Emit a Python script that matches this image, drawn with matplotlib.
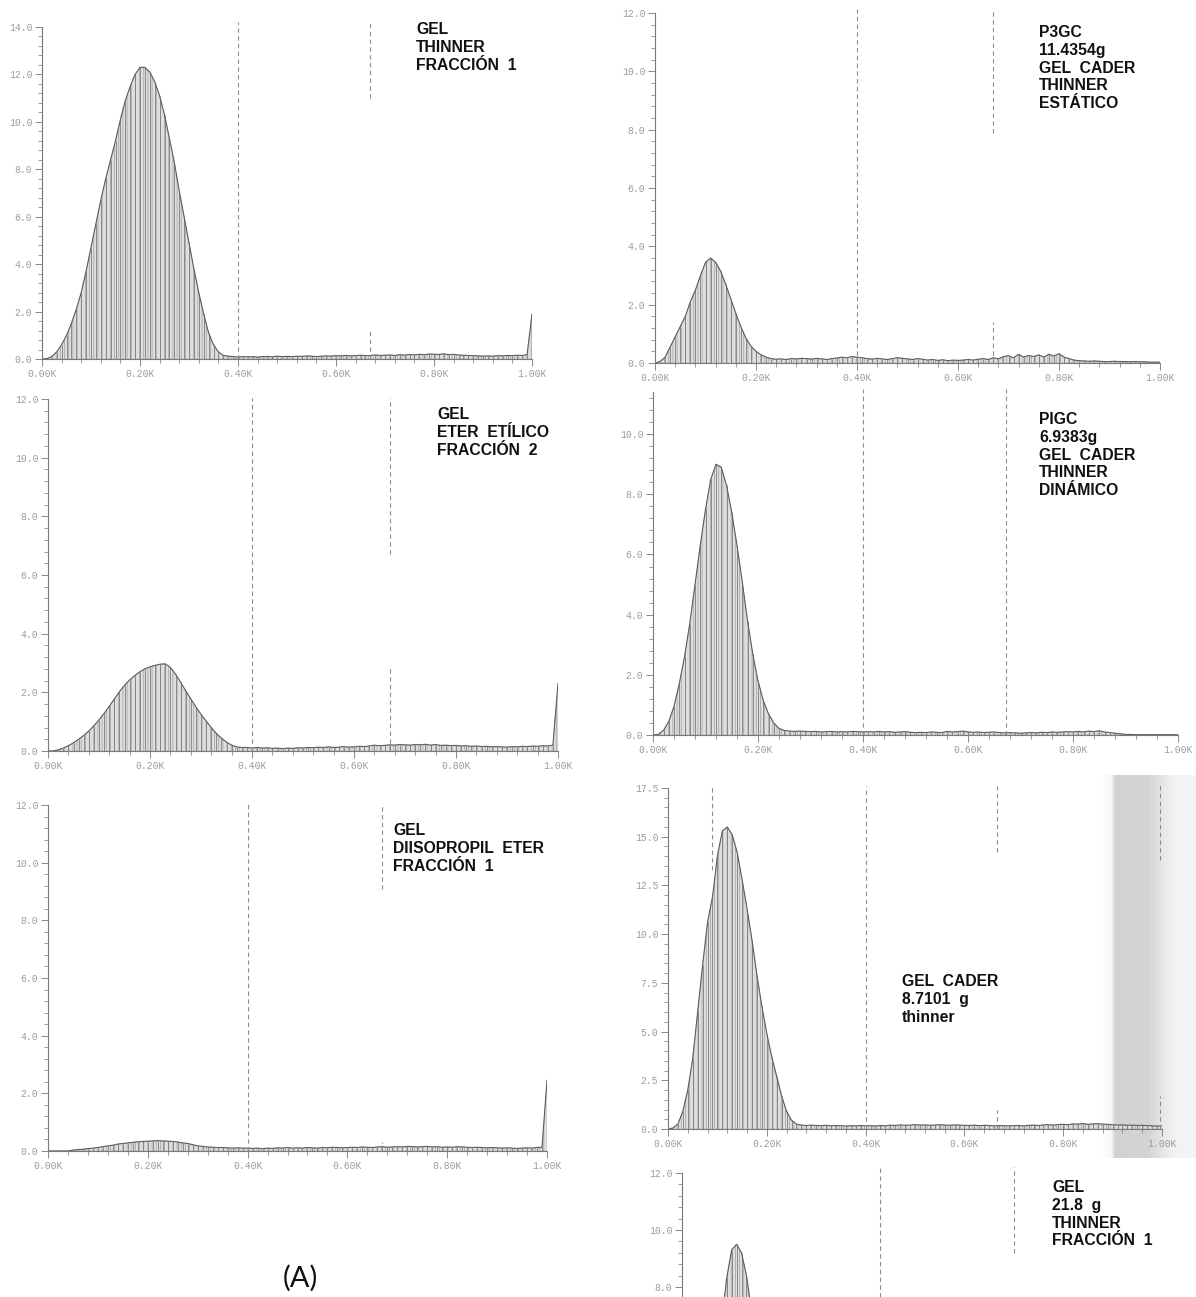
import numpy as np
import matplotlib
matplotlib.use("Agg")
import matplotlib.pyplot as plt
from matplotlib.ticker import MultipleLocator, FuncFormatter

plt.rcParams['font.family'] = ['Liberation Mono', 'DejaVu Sans Mono']
plt.rcParams['hatch.linewidth'] = 0.5
plt.rcParams['hatch.color'] = '#a0a0a0'

W, H = 1196, 1297

# posiciones de los canales (K), cada 0.01K
bins_k = np.round(np.arange(0, 101) * 0.01, 2)

p1_vals = [0.0, 0.02, 0.1, 0.3, 0.6, 1.0, 1.5, 2.1, 2.8, 3.7,
           4.7, 5.7, 6.7, 7.6, 8.4, 9.2, 10.1, 10.9, 11.5, 12.0,
           12.3, 12.3, 12.1, 11.7, 11.1, 10.3, 9.3, 8.3, 7.1, 6.0,
           4.9, 3.8, 2.8, 1.9, 1.1, 0.6, 0.3, 0.15, 0.12, 0.1,
           0.08, 0.1, 0.09, 0.1, 0.08, 0.1, 0.11, 0.09, 0.12, 0.1,
           0.11, 0.1, 0.12, 0.11, 0.13, 0.12, 0.1, 0.12, 0.13, 0.12,
           0.14, 0.13, 0.15, 0.13, 0.14, 0.16, 0.14, 0.15, 0.17, 0.15,
           0.16, 0.17, 0.15, 0.18, 0.16, 0.19, 0.17, 0.2, 0.18, 0.21,
           0.2, 0.19, 0.22, 0.18, 0.2, 0.17, 0.16, 0.15, 0.14, 0.13,
           0.12, 0.13, 0.12, 0.14, 0.13, 0.15, 0.14, 0.16, 0.15, 0.18,
           1.9]

p2_vals = [0.0, 0.05, 0.2, 0.55, 0.9, 1.25, 1.6, 2.1, 2.5, 3.0,
           3.45, 3.6, 3.45, 3.15, 2.7, 2.2, 1.7, 1.25, 0.85, 0.58,
           0.4, 0.28, 0.2, 0.15, 0.13, 0.14, 0.12, 0.15, 0.14, 0.16,
           0.15, 0.13, 0.16, 0.14, 0.12, 0.15, 0.17, 0.2, 0.18, 0.22,
           0.2, 0.18, 0.15, 0.13, 0.16, 0.14, 0.12, 0.15, 0.18, 0.16,
           0.14, 0.12, 0.15, 0.13, 0.1, 0.12, 0.09, 0.11, 0.08, 0.1,
           0.09, 0.1, 0.12, 0.1, 0.13, 0.15, 0.12, 0.18, 0.14, 0.22,
           0.25, 0.18, 0.3, 0.2, 0.26, 0.22, 0.28, 0.2, 0.3, 0.24,
           0.32, 0.2, 0.15, 0.1, 0.08, 0.07, 0.06, 0.07, 0.06, 0.05,
           0.05, 0.06, 0.05, 0.05, 0.04, 0.05, 0.04, 0.04, 0.03, 0.03,
           0.03]

p3_vals = [0.0, 0.0, 0.04, 0.1, 0.18, 0.28, 0.4, 0.53, 0.68, 0.86,
           1.06, 1.28, 1.52, 1.77, 2.02, 2.24, 2.42, 2.57, 2.7, 2.8,
           2.87, 2.92, 2.96, 2.97, 2.85, 2.62, 2.35, 2.05, 1.78, 1.5,
           1.25, 1.02, 0.8, 0.6, 0.44, 0.3, 0.2, 0.14, 0.12, 0.12,
           0.1, 0.12, 0.1, 0.11, 0.09, 0.1, 0.08, 0.1, 0.09, 0.11,
           0.1, 0.12, 0.11, 0.13, 0.12, 0.14, 0.12, 0.13, 0.15, 0.13,
           0.14, 0.16, 0.15, 0.17, 0.2, 0.18, 0.19, 0.21, 0.2, 0.22,
           0.21, 0.2, 0.22, 0.21, 0.23, 0.2, 0.22, 0.19, 0.2, 0.18,
           0.19, 0.17, 0.18, 0.16, 0.17, 0.15, 0.16, 0.14, 0.15, 0.14,
           0.13, 0.15, 0.14, 0.16, 0.15, 0.17, 0.16, 0.18, 0.17, 0.2,
           2.3]

p4_vals = [0.0, 0.02, 0.15, 0.45, 0.95, 1.7, 2.6, 3.7, 5.0, 6.3,
           7.5, 8.5, 9.0, 8.9, 8.3, 7.4, 6.3, 5.1, 3.8, 2.7,
           1.8, 1.15, 0.7, 0.4, 0.22, 0.15, 0.13, 0.12, 0.13, 0.12,
           0.11, 0.12, 0.1, 0.11, 0.12, 0.1, 0.11, 0.1, 0.12, 0.11,
           0.1, 0.11, 0.1, 0.12, 0.1, 0.11, 0.09, 0.1, 0.11, 0.09,
           0.08, 0.09, 0.08, 0.1, 0.09, 0.08, 0.12, 0.1, 0.11, 0.13,
           0.1, 0.09, 0.1, 0.08, 0.09, 0.1, 0.08, 0.07, 0.08, 0.07,
           0.06, 0.07, 0.08, 0.07, 0.09, 0.08, 0.1, 0.09, 0.1, 0.11,
           0.1, 0.12, 0.1, 0.13, 0.11, 0.14, 0.1, 0.08, 0.06, 0.04,
           0.02, 0.02, 0.01, 0.01, 0.01, 0.01, 0.01, 0.01, 0.01, 0.01,
           0.01]

p5_vals = [0.0, 0.0, 0.0, 0.0, 0.0, 0.03, 0.05, 0.06, 0.08, 0.1,
           0.12, 0.15, 0.18, 0.2, 0.24, 0.26, 0.28, 0.3, 0.32, 0.33,
           0.34, 0.35, 0.36, 0.35, 0.34, 0.33, 0.31, 0.28, 0.26, 0.22,
           0.18, 0.16, 0.14, 0.13, 0.12, 0.12, 0.11, 0.1, 0.11, 0.1,
           0.1, 0.09, 0.1, 0.08, 0.1, 0.09, 0.11, 0.1, 0.12, 0.1,
           0.11, 0.1, 0.12, 0.11, 0.1, 0.12, 0.11, 0.13, 0.12, 0.11,
           0.12, 0.13, 0.12, 0.14, 0.13, 0.12, 0.14, 0.15, 0.13, 0.14,
           0.15, 0.14, 0.16, 0.15, 0.14, 0.15, 0.16, 0.14, 0.15, 0.13,
           0.14, 0.13, 0.15, 0.14, 0.13, 0.12, 0.13, 0.12, 0.11, 0.12,
           0.11, 0.1, 0.11, 0.1, 0.09, 0.1, 0.11, 0.1, 0.12, 0.13,
           2.45]

p6_vals = [0.0, 0.05, 0.25, 0.9, 2.0, 3.6, 6.0, 8.4, 10.6, 11.9,
           14.0, 15.3, 15.5, 15.1, 14.2, 12.8, 11.3, 9.7, 7.9, 6.3,
           4.9, 3.7, 2.7, 1.7, 0.9, 0.45, 0.25, 0.2, 0.18, 0.2,
           0.18, 0.17, 0.19, 0.16, 0.18, 0.17, 0.15, 0.17, 0.16, 0.18,
           0.16, 0.17, 0.15, 0.18, 0.16, 0.2, 0.18, 0.21, 0.19, 0.2,
           0.22, 0.2, 0.21, 0.19, 0.2, 0.22, 0.2, 0.19, 0.21, 0.2,
           0.19, 0.18, 0.2, 0.17, 0.19, 0.18, 0.16, 0.18, 0.17, 0.16,
           0.17, 0.18, 0.16, 0.19, 0.2, 0.18, 0.21, 0.22, 0.2, 0.23,
           0.24, 0.22, 0.26, 0.25, 0.28, 0.24, 0.26, 0.27, 0.25, 0.24,
           0.22, 0.2, 0.21, 0.19, 0.2, 0.18, 0.19, 0.17, 0.16, 0.15,
           0.15]

p7_vals = [0.0, 0.02, 0.1, 0.4, 1.0, 2.0, 3.4, 5.0, 6.8, 8.3,
           9.3, 9.5, 9.2, 8.4, 7.2, 5.8, 4.4, 3.1, 2.0, 1.2,
           0.6, 0.3, 0.2, 0.15, 0.14, 0.15, 0.13, 0.14, 0.12, 0.13,
           0.12, 0.13, 0.12, 0.14, 0.13, 0.12, 0.13, 0.12, 0.14, 0.13,
           0.12, 0.13, 0.12, 0.14, 0.13, 0.12, 0.13, 0.14, 0.13, 0.12,
           0.13, 0.14, 0.13, 0.15, 0.14, 0.13, 0.14, 0.15, 0.14, 0.13,
           0.14, 0.15, 0.14, 0.15, 0.16, 0.14, 0.15, 0.16, 0.15, 0.14,
           0.15, 0.16, 0.15, 0.17, 0.16, 0.15, 0.16, 0.17, 0.16, 0.15,
           0.16, 0.15, 0.16, 0.15, 0.14, 0.15, 0.14, 0.13, 0.14, 0.13,
           0.12, 0.13, 0.12, 0.12, 0.11, 0.12, 0.11, 0.11, 0.1, 0.1,
           0.1]

# marcadores verticales (K) y tramos visibles (y_min, y_max)
p1_marks = [(0.40, [(0, 14.2)]), (0.67, [(11.0, 14.2), (0, 1.2)])]
p2_marks = [(0.40, [(0, 12.15)]), (0.67, [(7.9, 12.15), (0, 1.4)])]
p3_marks = [(0.40, [(0, 12.05)]), (0.67, [(6.7, 12.05), (0, 2.9)])]
p4_marks = [(0.40, [(0, 11.5)]), (0.672, [(0, 11.5)])]
p5_marks = [(0.40, [(0, 12.05)]), (0.67, [(9.1, 12.05), (0, 0.3)])]
p6_marks = [(0.09, [(13.3, 17.6)]), (0.40, [(0, 17.6)]),
            (0.665, [(14.2, 17.6), (0, 1.0)]), (0.995, [(13.8, 17.8), (0, 1.7)])]
p7_marks = [(0.40, [(0, 12.2)]), (0.67, [(9.2, 12.2)])]

p1_label = "GEL\nTHINNER\nFRACCIÓN  1"
p2_label = "P3GC\n11.4354g\nGEL  CADER\nTHINNER\nESTÁTICO"
p3_label = "GEL\nETER  ETÍLICO\nFRACCIÓN  2"
p4_label = "PIGC\n6.9383g\nGEL  CADER\nTHINNER\nDINÁMICO"
p5_label = "GEL\nDIISOPROPIL  ETER\nFRACCIÓN  1"
p6_label = "GEL  CADER\n8.7101  g\nthinner"
p7_label = "GEL\n21.8  g\nTHINNER\nFRACCIÓN  1"

fig = plt.figure(figsize=(W / 100, H / 100), dpi=100, facecolor='white')

# sombra del escaneo (pliegue de la hoja) a la derecha
sh = fig.add_axes([1100 / W, 1 - 1158 / H, (W - 1100) / W, (1158 - 775) / H], zorder=0)
cols = np.arange(W - 1100)
shade = np.interp(cols, [0, 11, 15, 48, 62, 75, 96], [1.0, 0.96, 0.82, 0.83, 0.90, 0.95, 0.96])
sh.imshow(shade[np.newaxis, :], cmap='gray', vmin=0, vmax=1, aspect='auto')
sh.axis('off')


def panel(x0, x1, y0, ytop):
    # ejes a partir de píxeles: origen (x0, y0), 1.00K en x1, tope en ytop
    return fig.add_axes([x0 / W, 1 - y0 / H, (x1 - x0) / W, (y0 - ytop) / H], zorder=1)


def draw(ax, vals, marks, ymax, ymaj, ymin_step, ymin=0.0):
    ax.set_facecolor('none')
    # relleno gris rayado en vertical, como el trazador original
    ax.fill_between(bins_k, vals, 0, facecolor='#dedede', edgecolor='#a0a0a0',
                    hatch='||||', linewidth=0.3)
    ax.vlines(bins_k, 0, vals, color='#7c7c7c', lw=0.6)
    ax.plot(bins_k, vals, color='#5e5e5e', lw=0.8)
    for xm, segs in marks:
        for lo, hi in segs:
            ax.plot([xm, xm], [max(lo, ymin), hi], color='#8c8c8c', lw=0.8,
                    ls=(0, (4, 3)), clip_on=False)
    ax.set_xlim(0, 1.0)
    ax.set_ylim(ymin, ymax)
    for s in ['top', 'right']:
        ax.spines[s].set_visible(False)
    for s in ['left', 'bottom']:
        ax.spines[s].set_color('#7a7a7a')
        ax.spines[s].set_linewidth(0.8)
    ax.xaxis.set_major_locator(MultipleLocator(0.2))
    ax.xaxis.set_minor_locator(MultipleLocator(0.04))
    ax.yaxis.set_major_locator(MultipleLocator(ymaj))
    ax.yaxis.set_minor_locator(MultipleLocator(ymin_step))
    ax.xaxis.set_major_formatter(FuncFormatter(lambda v, p: f"{v:.2f}K"))
    ax.yaxis.set_major_formatter(FuncFormatter(lambda v, p: f"{v:.1f}"))
    ax.tick_params(which='major', length=5, width=0.7, color='#8a8a8a',
                   labelsize=7, labelcolor='#9c9c9c', direction='out', pad=2)
    ax.tick_params(which='minor', length=3, width=0.6, color='#8a8a8a', direction='out')


def label(x, top, txt):
    fig.text(x / W, 1 - top / H, txt, ha='left', va='top', fontsize=11.3,
             fontweight='bold', family='Liberation Sans', color='#111111',
             linespacing=1.23)


ax1 = panel(42, 532, 359, 27)
draw(ax1, p1_vals, p1_marks, 14.0, 2.0, 0.4)
label(416, 22, p1_label)

ax2 = panel(655, 1160, 363, 13)
draw(ax2, p2_vals, p2_marks, 12.0, 2.0, 0.4)
label(1039, 25, p2_label)

ax3 = panel(48, 558, 751, 399)
draw(ax3, p3_vals, p3_marks, 12.0, 2.0, 0.4)
label(437, 407, p3_label)

ax4 = panel(653, 1178, 735, 392)
draw(ax4, p4_vals, p4_marks, 11.4, 2.0, 0.4)
label(1039, 412, p4_label)

ax5 = panel(48, 547, 1151, 805)
draw(ax5, p5_vals, p5_marks, 12.0, 2.0, 0.4)
label(393, 823, p5_label)

ax6 = panel(668, 1162, 1129, 788)
draw(ax6, p6_vals, p6_marks, 17.5, 2.5, 0.5)
label(902, 974, p6_label)

# último gráfico: solo se ve la parte superior (recortado por el borde)
ax7 = panel(682, 1178, 1297, 1173)
draw(ax7, p7_vals, p7_marks, 12.0, 2.0, 0.4, ymin=7.65)
ax7.spines['bottom'].set_visible(False)
ax7.tick_params(axis='x', which='both', bottom=False, labelbottom=False)
label(1052, 1180, p7_label)

fig.text(300 / W, 1 - 1278 / H, "(A)", ha='center', va='center', fontsize=21,
         family='Lato', color='#111111')

fig.savefig("out.png", dpi=100, facecolor='white')
